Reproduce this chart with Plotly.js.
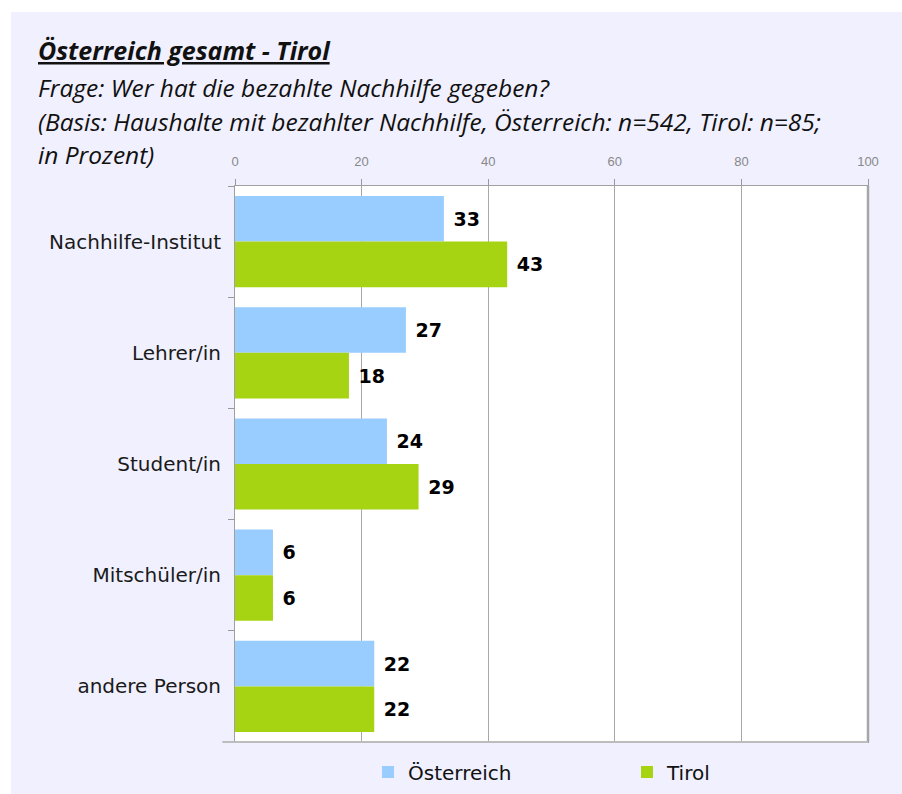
<!DOCTYPE html>
<html>
<head>
    <title>Österreich gesamt - Tirol</title>
    <style>
        html, body {
            margin: 0;
            padding: 0;
            background: #ffffff;
            overflow: hidden;
        }
        #plot {
            position: absolute;
            left: 11px;
            top: 12px;
            width: 891px;
            height: 782px;
            background: #f0f0fe;
        }
    </style>
    <script src="https://cdn.plot.ly/plotly-3.0.1.min.js"></script>
</head>

<body>
<div id="plot"></div>
<script>
    const categories = ['Nachhilfe-Institut', 'Lehrer/in', 'Student/in', 'Mitschüler/in', 'andere Person'];
    const oesterreich = [33, 27, 24, 6, 22];
    const tirol = [43, 18, 29, 6, 22];
    const xTicks = [0, 20, 40, 60, 80, 100];

    const titleLines = [
        '<b><i><u>Österreich gesamt - Tirol</u></i></b>',
        '<i>Frage: Wer hat die bezahlte Nachhilfe gegeben?</i>',
        '<i>(Basis: Haushalte mit bezahlter Nachhilfe, Österreich: n=542, Tirol: n=85;</i>',
        '<i>in Prozent)</i>'
    ];

    // plot area in page pixels
    const area = {left: 235, right: 868, top: 186, bottom: 742};
    function paperX(px) { return (px - area.left) / (area.right - area.left); }
    function paperY(py) { return (area.bottom - py) / (area.bottom - area.top); }

    function makeTrace(name, values, color) {
        return {
            type: 'bar',
            orientation: 'h',
            name: name,
            x: values,
            y: categories,
            marker: {color: color, line: {width: 0}},
            texttemplate: '\u00a0%{x}',
            textposition: 'outside',
            constraintext: 'none',
            cliponaxis: false,
            textfont: {family: 'DejaVu Sans', size: 19, weight: 'bold', color: '#000000'},
            hoverinfo: 'x+name'
        };
    }

    const data = [
        makeTrace('Österreich', oesterreich, '#99ccff'),
        makeTrace('Tirol', tirol, '#a6d412')
    ];

    const titleY = [50, 87, 121, 155];
    const titleSize = [25, 24.5, 24.5, 24.5];
    const annotations = titleLines.map(function (t, i) {
        return {
            text: t,
            xref: 'paper',
            yref: 'paper',
            x: paperX(36),
            y: paperY(titleY[i]),
            xanchor: 'left',
            yanchor: 'middle',
            showarrow: false,
            font: {family: '"Open Sans", sans-serif', size: titleSize[i], color: '#111111'}
        };
    });

    // heavier right and bottom frame, as in the original
    const frame = [
        {type: 'line', xref: 'paper', yref: 'paper', x0: 1, x1: 1, y0: 0, y1: 1,
            line: {color: '#a6a6a6', width: 2.5}},
        {type: 'line', xref: 'paper', yref: 'paper', x0: -0.02, x1: 1, y0: 0, y1: 0,
            line: {color: '#bdbdbd', width: 2}}
    ];

    const layout = {
        width: 891,
        height: 782,
        margin: {l: 224, r: 34, t: 174, b: 52, pad: 0, autoexpand: false},
        paper_bgcolor: '#f0f0fe',
        plot_bgcolor: '#ffffff',
        barmode: 'group',
        bargap: 0.18,
        bargroupgap: 0,
        showlegend: true,
        legend: {
            orientation: 'h',
            x: paperX(368),
            xanchor: 'left',
            y: paperY(772),
            yanchor: 'middle',
            entrywidth: 214,
            entrywidthmode: 'pixels',
            font: {family: 'DejaVu Sans', size: 20, color: '#111111'},
            bgcolor: 'rgba(0,0,0,0)'
        },
        xaxis: {
            side: 'top',
            range: [0, 100],
            tickvals: xTicks,
            ticktext: xTicks.map(String),
            ticks: 'outside',
            ticklen: 6,
            tickcolor: '#999999',
            tickfont: {family: 'Liberation Sans', size: 13, color: '#888888'},
            ticklabelstandoff: 8,
            showgrid: true,
            gridcolor: '#a8a8a8',
            gridwidth: 1,
            zeroline: false,
            showline: true,
            mirror: true,
            linecolor: '#a0a0a0',
            linewidth: 1,
            fixedrange: true
        },
        yaxis: {
            type: 'category',
            autorange: 'reversed',
            ticks: 'outside',
            tickson: 'boundaries',
            ticklen: 6,
            tickcolor: '#999999',
            tickfont: {family: 'DejaVu Sans', size: 20, color: '#1a1a1a'},
            ticklabelstandoff: 9,
            showgrid: false,
            zeroline: false,
            showline: true,
            mirror: true,
            linecolor: '#a0a0a0',
            linewidth: 1,
            fixedrange: true
        },
        shapes: frame,
        annotations: annotations,
        hovermode: 'closest'
    };

    const config = {displayModeBar: false};

    Plotly.newPlot('plot', data, layout, config);
</script>
</body>
</html>
